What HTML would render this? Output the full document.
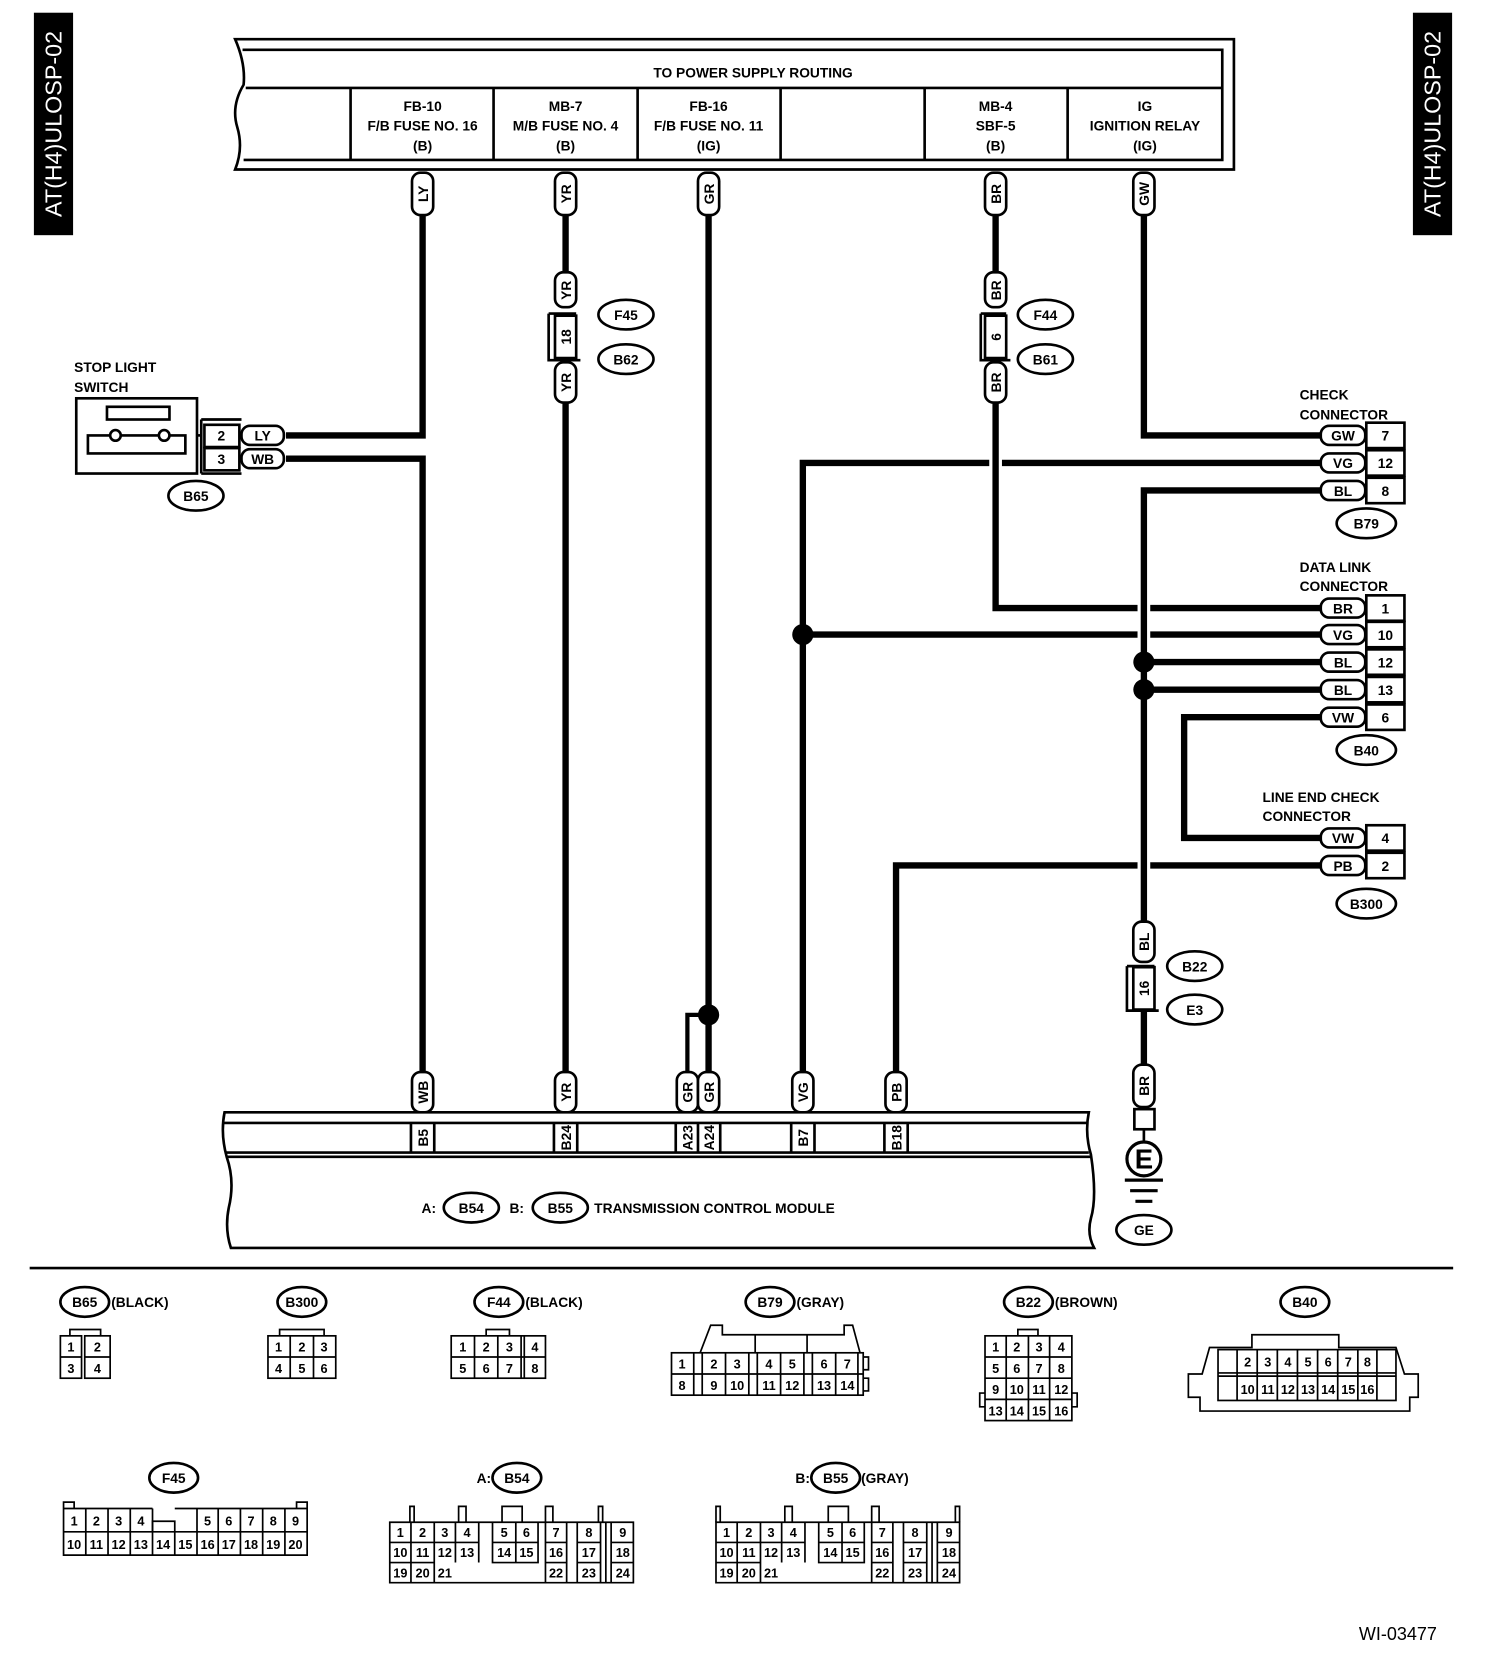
<!DOCTYPE html>
<html><head><meta charset="utf-8"><style>
html,body{margin:0;padding:0;background:#fff}
svg{display:block}
text{font-family:"Liberation Sans",Arial,sans-serif;font-weight:bold;fill:#000}
</style></head><body>
<svg width="1504" height="1660" viewBox="0 0 1420 1567" preserveAspectRatio="none" xmlns="http://www.w3.org/2000/svg">
<rect width="1420" height="1567" fill="#fff"/>
<!-- side labels -->
<rect x="32" y="12" width="37" height="210" fill="#000"/>
<text transform="translate(58,117) rotate(-90)" text-anchor="middle" font-size="22" style="fill:#fff;font-weight:normal">AT(H4)ULOSP-02</text>
<rect x="1334" y="12" width="37" height="210" fill="#000"/>
<text transform="translate(1360,117) rotate(-90)" text-anchor="middle" font-size="22" style="fill:#fff;font-weight:normal">AT(H4)ULOSP-02</text>

<!-- top box -->
<g fill="none" stroke="#000" stroke-width="2.5">
<path d="M222,37 L1165,37 L1165,160 L222,160 Q230,140 224,120 Q218,100 230,80 Q232,60 222,37 Z" fill="#fff"/>
<path d="M229,47 L1154,47 L1154,151 L230,151"/>
<line x1="232" y1="83" x2="1154" y2="83"/>
<line x1="331" y1="83" x2="331" y2="151"/><line x1="466" y1="83" x2="466" y2="151"/>
<line x1="602" y1="83" x2="602" y2="151"/><line x1="737" y1="83" x2="737" y2="151"/>
<line x1="873" y1="83" x2="873" y2="151"/><line x1="1008" y1="83" x2="1008" y2="151"/>
</g>
<g font-size="13" text-anchor="middle" style="font-weight:normal">
<text x="711" y="73">TO POWER SUPPLY ROUTING</text>
<text x="399" y="105">FB-10</text><text x="399" y="123">F/B FUSE NO. 16</text><text x="399" y="142">(B)</text>
<text x="534" y="105">MB-7</text><text x="534" y="123">M/B FUSE NO. 4</text><text x="534" y="142">(B)</text>
<text x="669" y="105">FB-16</text><text x="669" y="123">F/B FUSE NO. 11</text><text x="669" y="142">(IG)</text>
<text x="940" y="105">MB-4</text><text x="940" y="123">SBF-5</text><text x="940" y="142">(B)</text>
<text x="1081" y="105">IG</text><text x="1081" y="123">IGNITION RELAY</text><text x="1081" y="142">(IG)</text>
</g>

<!-- wires -->
<g stroke="#000" stroke-width="6" fill="none">
<path d="M399,203 V411 H270"/>
<path d="M270,433 H399 V1012"/>
<line x1="534" y1="203" x2="534" y2="257"/><line x1="534" y1="380" x2="534" y2="1012"/>
<line x1="669" y1="203" x2="669" y2="1012"/>
<line x1="940" y1="203" x2="940" y2="257"/>
<path d="M940,380 V574 H1074"/><line x1="1086" y1="574" x2="1248" y2="574"/>
<path d="M1080,203 V411 H1248"/>
<path d="M758,1012 V437 H934"/><line x1="946" y1="437" x2="1248" y2="437"/>
<path d="M1248,463 H1080 V870"/>
<line x1="758" y1="599" x2="1074" y2="599"/><line x1="1086" y1="599" x2="1248" y2="599"/>
<line x1="1080" y1="625" x2="1248" y2="625"/><line x1="1080" y1="651" x2="1248" y2="651"/>
<path d="M1248,677 H1118 V791 H1248"/>
<path d="M846,1012 V817 H1074"/><line x1="1086" y1="817" x2="1248" y2="817"/>
<line x1="1080" y1="952" x2="1080" y2="1005"/>
</g>
<path d="M669,958 H649 V1012" stroke="#000" stroke-width="4" fill="none"/>
<g fill="#000"><circle cx="758" cy="599" r="10"/><circle cx="1080" cy="625" r="10"/><circle cx="1080" cy="651" r="10"/><circle cx="669" cy="958" r="10"/></g>

<!-- vertical tags -->
<g fill="#fff" stroke="#000" stroke-width="2.5">
<rect x="389" y="163" width="20" height="40" rx="8"/><rect x="524" y="163" width="20" height="40" rx="8"/>
<rect x="659" y="163" width="20" height="40" rx="8"/><rect x="930" y="163" width="20" height="40" rx="8"/>
<rect x="1070" y="163" width="20" height="40" rx="8"/>
<rect x="524" y="257" width="20" height="33" rx="8"/><rect x="524" y="342" width="20" height="38" rx="8"/>
<rect x="930" y="257" width="20" height="33" rx="8"/><rect x="930" y="342" width="20" height="38" rx="8"/>
<rect x="389" y="1012" width="20" height="38" rx="8"/><rect x="524" y="1012" width="20" height="38" rx="8"/>
<rect x="639" y="1012" width="20" height="38" rx="8"/><rect x="659" y="1012" width="20" height="38" rx="8"/>
<rect x="748" y="1012" width="20" height="38" rx="8"/><rect x="836" y="1012" width="20" height="38" rx="8"/>
<rect x="1070" y="870" width="20" height="38" rx="8"/><rect x="1070" y="1005" width="20" height="40" rx="8"/>
<path d="M518,296 H544 M518,296 V340 H548" fill="none"/><rect x="524" y="298" width="20" height="40"/>
<path d="M926,296 H950 M926,296 V340 H954" fill="none"/><rect x="930" y="298" width="20" height="40"/>
<path d="M1064,912 H1090 M1064,912 V954 H1094" fill="none"/><rect x="1070" y="913" width="20" height="40"/>
</g>
<g font-size="13">
<text transform="translate(404,183) rotate(-90)" text-anchor="middle">LY</text>
<text transform="translate(539,183) rotate(-90)" text-anchor="middle">YR</text>
<text transform="translate(674,183) rotate(-90)" text-anchor="middle">GR</text>
<text transform="translate(945,183) rotate(-90)" text-anchor="middle">BR</text>
<text transform="translate(1085,183) rotate(-90)" text-anchor="middle">GW</text>
<text transform="translate(539,274) rotate(-90)" text-anchor="middle">YR</text>
<text transform="translate(539,361) rotate(-90)" text-anchor="middle">YR</text>
<text transform="translate(539,318) rotate(-90)" text-anchor="middle">18</text>
<text transform="translate(945,274) rotate(-90)" text-anchor="middle">BR</text>
<text transform="translate(945,361) rotate(-90)" text-anchor="middle">BR</text>
<text transform="translate(945,318) rotate(-90)" text-anchor="middle">6</text>
<text transform="translate(404,1031) rotate(-90)" text-anchor="middle">WB</text>
<text transform="translate(539,1031) rotate(-90)" text-anchor="middle">YR</text>
<text transform="translate(654,1031) rotate(-90)" text-anchor="middle">GR</text>
<text transform="translate(674,1031) rotate(-90)" text-anchor="middle">GR</text>
<text transform="translate(763,1031) rotate(-90)" text-anchor="middle">VG</text>
<text transform="translate(851,1031) rotate(-90)" text-anchor="middle">PB</text>
<text transform="translate(1085,889) rotate(-90)" text-anchor="middle">BL</text>
<text transform="translate(1085,933) rotate(-90)" text-anchor="middle">16</text>
<text transform="translate(1085,1025) rotate(-90)" text-anchor="middle">BR</text>
</g>

<!-- ovals -->
<g fill="#fff" stroke="#000" stroke-width="2.5">
<ellipse cx="591" cy="297" rx="26" ry="14"/><ellipse cx="591" cy="339" rx="26" ry="14"/>
<ellipse cx="987" cy="297" rx="26" ry="14"/><ellipse cx="987" cy="339" rx="26" ry="14"/>
<ellipse cx="1128" cy="912" rx="26" ry="14"/><ellipse cx="1128" cy="953" rx="26" ry="14"/>
<ellipse cx="185" cy="468" rx="26" ry="14"/>
<ellipse cx="1290" cy="494" rx="28" ry="14"/><ellipse cx="1290" cy="708" rx="28" ry="14"/><ellipse cx="1290" cy="853" rx="28" ry="14"/>
<ellipse cx="1080" cy="1161" rx="26" ry="14"/>
</g>
<g font-size="13" text-anchor="middle">
<text x="591" y="302">F45</text><text x="591" y="344">B62</text>
<text x="987" y="302">F44</text><text x="987" y="344">B61</text>
<text x="1128" y="917">B22</text><text x="1128" y="958">E3</text>
<text x="185" y="473">B65</text>
<text x="1290" y="499">B79</text><text x="1290" y="713">B40</text><text x="1290" y="858">B300</text>
<text x="1080" y="1166">GE</text>
</g>

<!-- stop light switch -->
<g font-size="13"><text x="70" y="351">STOP LIGHT</text><text x="70" y="370">SWITCH</text></g>
<g fill="none" stroke="#000" stroke-width="2.5">
<rect x="72" y="376" width="114" height="71"/>
<rect x="101" y="384" width="59" height="12"/>
<path d="M103,411 H83 V428 H175 V411 H160 M114,411 H150"/>
<circle cx="109" cy="411" r="5" fill="#fff"/><circle cx="155" cy="411" r="5" fill="#fff"/>
<path d="M186,411 H190"/>
<path d="M190,396 H228 M190,447 H228 M190,396 V447"/>
<rect x="193" y="401" width="33" height="21"/><rect x="193" y="423" width="33" height="21"/>
<rect x="228" y="402" width="40" height="18" rx="8" fill="#fff"/><rect x="228" y="424" width="40" height="18" rx="8" fill="#fff"/>
</g>
<g font-size="13" text-anchor="middle"><text x="209" y="416">2</text><text x="209" y="438">3</text><text x="248" y="416">LY</text><text x="248" y="438">WB</text></g>

<!-- right connectors -->
<g font-size="13">
<text x="1227" y="377">CHECK</text><text x="1227" y="396">CONNECTOR</text>
<text x="1227" y="540">DATA LINK</text><text x="1227" y="558">CONNECTOR</text>
<text x="1192" y="757">LINE END CHECK</text><text x="1192" y="775">CONNECTOR</text>
</g>
<g fill="#fff" stroke="#000" stroke-width="2.5">
<rect x="1290" y="399" width="36" height="24"/><rect x="1290" y="425" width="36" height="24"/><rect x="1290" y="451" width="36" height="24"/>
<rect x="1290" y="562" width="36" height="24"/><rect x="1290" y="587" width="36" height="24"/><rect x="1290" y="613" width="36" height="24"/><rect x="1290" y="639" width="36" height="24"/><rect x="1290" y="665" width="36" height="24"/>
<rect x="1290" y="779" width="36" height="24"/><rect x="1290" y="805" width="36" height="24"/>
<rect x="1247" y="402" width="42" height="18" rx="8"/><rect x="1247" y="428" width="42" height="18" rx="8"/><rect x="1247" y="454" width="42" height="18" rx="8"/>
<rect x="1247" y="565" width="42" height="18" rx="8"/><rect x="1247" y="590" width="42" height="18" rx="8"/><rect x="1247" y="616" width="42" height="18" rx="8"/><rect x="1247" y="642" width="42" height="18" rx="8"/><rect x="1247" y="668" width="42" height="18" rx="8"/>
<rect x="1247" y="782" width="42" height="18" rx="8"/><rect x="1247" y="808" width="42" height="18" rx="8"/>
</g>
<g font-size="13" text-anchor="middle">
<text x="1268" y="416">GW</text><text x="1308" y="416">7</text>
<text x="1268" y="442">VG</text><text x="1308" y="442">12</text>
<text x="1268" y="468">BL</text><text x="1308" y="468">8</text>
<text x="1268" y="579">BR</text><text x="1308" y="579">1</text>
<text x="1268" y="604">VG</text><text x="1308" y="604">10</text>
<text x="1268" y="630">BL</text><text x="1308" y="630">12</text>
<text x="1268" y="656">BL</text><text x="1308" y="656">13</text>
<text x="1268" y="682">VW</text><text x="1308" y="682">6</text>
<text x="1268" y="796">VW</text><text x="1308" y="796">4</text>
<text x="1268" y="822">PB</text><text x="1308" y="822">2</text>
</g>

<!-- ground -->
<g fill="none" stroke="#000" stroke-width="2.5">
<rect x="1071" y="1047" width="19" height="19" fill="#fff"/>
<line x1="1080" y1="1066" x2="1080" y2="1078"/>
<circle cx="1080" cy="1094" r="16" stroke-width="3"/>
<line x1="1062" y1="1114" x2="1098" y2="1114" stroke-width="3"/>
<line x1="1067" y1="1124" x2="1093" y2="1124" stroke-width="3"/>
<line x1="1072" y1="1134" x2="1088" y2="1134" stroke-width="3"/>
</g>
<text x="1080" y="1103" font-size="26" text-anchor="middle">E</text>

<!-- TCM -->
<g fill="none" stroke="#000" stroke-width="2.5">
<path d="M212,1050 H1028 Q1024,1070 1030,1090 Q1036,1130 1030,1150 Q1026,1165 1033,1178 H218 Q212,1160 216,1140 Q222,1115 214,1092 Q208,1070 212,1050 Z" fill="#fff"/>
<line x1="211" y1="1060" x2="1026" y2="1060"/><line x1="212" y1="1088" x2="1028" y2="1088"/><line x1="214" y1="1092" x2="1030" y2="1092"/>
<path d="M388,1060 V1088 M410,1060 V1088 M523,1060 V1088 M545,1060 V1088 M638,1060 V1088 M659,1060 V1088 M680,1060 V1088 M747,1060 V1088 M769,1060 V1088 M835,1060 V1088 M857,1060 V1088"/>
</g>
<g fill="#fff" stroke="#000" stroke-width="2.5">
<ellipse cx="445" cy="1140" rx="26" ry="14"/><ellipse cx="529" cy="1140" rx="26" ry="14"/>
</g>
<g font-size="13">
<text transform="translate(404,1074) rotate(-90)" text-anchor="middle">B5</text>
<text transform="translate(539,1074) rotate(-90)" text-anchor="middle">B24</text>
<text transform="translate(654,1074) rotate(-90)" text-anchor="middle">A23</text>
<text transform="translate(674,1074) rotate(-90)" text-anchor="middle">A24</text>
<text transform="translate(763,1074) rotate(-90)" text-anchor="middle">B7</text>
<text transform="translate(851,1074) rotate(-90)" text-anchor="middle">B18</text>
<text x="398" y="1145">A:</text><text x="481" y="1145">B:</text>
<text x="445" y="1145" text-anchor="middle">B54</text><text x="529" y="1145" text-anchor="middle">B55</text>
<text x="561" y="1145">TRANSMISSION CONTROL MODULE</text>
</g>

<line x1="28" y1="1197" x2="1372" y2="1197" stroke="#000" stroke-width="2.5"/>

<!-- bottom connector ovals -->
<g fill="#fff" stroke="#000" stroke-width="2.5">
<ellipse cx="80" cy="1229" rx="23" ry="14"/><ellipse cx="285" cy="1229" rx="23" ry="14"/><ellipse cx="471" cy="1229" rx="23" ry="14"/>
<ellipse cx="727" cy="1229" rx="23" ry="14"/><ellipse cx="971" cy="1229" rx="23" ry="14"/><ellipse cx="1232" cy="1229" rx="23" ry="14"/>
<ellipse cx="164" cy="1395" rx="23" ry="14"/><ellipse cx="488" cy="1395" rx="23" ry="14"/><ellipse cx="789" cy="1395" rx="23" ry="14"/>
</g>
<g font-size="13">
<text x="80" y="1234" text-anchor="middle">B65</text><text x="105" y="1234">(BLACK)</text>
<text x="285" y="1234" text-anchor="middle">B300</text>
<text x="471" y="1234" text-anchor="middle">F44</text><text x="496" y="1234">(BLACK)</text>
<text x="727" y="1234" text-anchor="middle">B79</text><text x="752" y="1234">(GRAY)</text>
<text x="971" y="1234" text-anchor="middle">B22</text><text x="996" y="1234">(BROWN)</text>
<text x="1232" y="1234" text-anchor="middle">B40</text>
<text x="164" y="1400" text-anchor="middle">F45</text>
<text x="450" y="1400">A:</text><text x="488" y="1400" text-anchor="middle">B54</text>
<text x="751" y="1400">B:</text><text x="789" y="1400" text-anchor="middle">B55</text><text x="813" y="1400">(GRAY)</text>
</g>

<!-- bottom connector grids -->
<g fill="none" stroke="#000" stroke-width="1.6">
<path d="M66,1261 V1255 H95 V1261"/>
<rect x="57" y="1261" width="20" height="40"/><rect x="80" y="1261" width="24" height="40"/>
<path d="M57,1281 H77 M80,1281 H104"/>
<path d="M264,1261 V1255 H306 V1261"/>
<rect x="253" y="1261" width="64" height="40"/><path d="M253,1281 H317 M274,1261 V1301 M296,1261 V1301"/>
<path d="M459,1261 V1255 H481 V1261"/>
<rect x="426" y="1261" width="89" height="40"/><path d="M426,1281 H515 M448,1261 V1301 M470,1261 V1301 M492,1261 V1301 M495,1261 V1301"/>
<path d="M661,1277 L671,1251 H682 V1260 H797 V1251 H805 L812,1277 M713,1260 V1277 M762,1260 V1277"/>
<rect x="634" y="1277" width="181" height="40"/><path d="M634,1297 H815 M655,1277 V1317 M663,1277 V1317 M685,1277 V1317 M707,1277 V1317 M715,1277 V1317 M737,1277 V1317 M759,1277 V1317 M767,1277 V1317 M789,1277 V1317 M810,1277 V1317 M815,1281 H820 V1293 H815 M815,1301 H820 V1313 H815"/>
<path d="M961,1261 V1255 H980 V1261"/>
<rect x="930" y="1261" width="82" height="80"/><path d="M930,1281 H1012 M930,1301 H1012 M930,1321 H1012 M950,1261 V1341 M971,1261 V1341 M991,1261 V1341 M930,1315 H925 V1328 H930 M1012,1315 H1017 V1328 H1012"/>
<!-- B40 -->
<path d="M1182,1272 V1260 H1264 V1272 H1318 L1326,1297 H1339 V1319 H1331 V1332 H1133 V1319 H1122 V1297 H1135 L1142,1272 Z"/>
<rect x="1150" y="1274" width="168" height="48"/><path d="M1150,1296 H1318 M1150,1299 H1318 M1168,1274 V1322 M1187,1274 V1322 M1206,1274 V1322 M1225,1274 V1322 M1244,1274 V1322 M1263,1274 V1322 M1282,1274 V1322 M1300,1274 V1322"/>
<!-- F45 -->
<path d="M60,1424 V1418 H70 V1424 M280,1424 V1418 H290 V1424 M144,1446 V1436 H165 V1446"/>
<path d="M60,1424 H144 M165,1424 H290 M60,1424 V1468 H290 V1424"/>
<path d="M60,1446 H290 M81,1424 V1468 M102,1424 V1468 M123,1424 V1468 M144,1424 V1468 M165,1446 V1468 M186,1424 V1468 M206,1424 V1468 M227,1424 V1468 M248,1424 V1468 M269,1424 V1468"/>
</g>
<g font-size="12" text-anchor="middle" style="font-weight:normal">
<text x="67" y="1276">1</text><text x="92" y="1276">2</text><text x="67" y="1296">3</text><text x="92" y="1296">4</text>
<text x="263" y="1276">1</text><text x="285" y="1276">2</text><text x="306" y="1276">3</text><text x="263" y="1296">4</text><text x="285" y="1296">5</text><text x="306" y="1296">6</text>
<text x="437" y="1276">1</text><text x="459" y="1276">2</text><text x="481" y="1276">3</text><text x="505" y="1276">4</text>
<text x="437" y="1296">5</text><text x="459" y="1296">6</text><text x="481" y="1296">7</text><text x="505" y="1296">8</text>
<text x="644" y="1292">1</text><text x="674" y="1292">2</text><text x="696" y="1292">3</text><text x="726" y="1292">4</text><text x="748" y="1292">5</text><text x="778" y="1292">6</text><text x="800" y="1292">7</text>
<text x="644" y="1312">8</text><text x="674" y="1312">9</text><text x="696" y="1312">10</text><text x="726" y="1312">11</text><text x="748" y="1312">12</text><text x="778" y="1312">13</text><text x="800" y="1312">14</text>
<text x="940" y="1276">1</text><text x="960" y="1276">2</text><text x="981" y="1276">3</text><text x="1002" y="1276">4</text>
<text x="940" y="1296">5</text><text x="960" y="1296">6</text><text x="981" y="1296">7</text><text x="1002" y="1296">8</text>
<text x="940" y="1316">9</text><text x="960" y="1316">10</text><text x="981" y="1316">11</text><text x="1002" y="1316">12</text>
<text x="940" y="1336">13</text><text x="960" y="1336">14</text><text x="981" y="1336">15</text><text x="1002" y="1336">16</text>
<text x="1178" y="1290">2</text><text x="1197" y="1290">3</text><text x="1216" y="1290">4</text><text x="1235" y="1290">5</text><text x="1254" y="1290">6</text><text x="1273" y="1290">7</text><text x="1291" y="1290">8</text>
<text x="1178" y="1316">10</text><text x="1197" y="1316">11</text><text x="1216" y="1316">12</text><text x="1235" y="1316">13</text><text x="1254" y="1316">14</text><text x="1273" y="1316">15</text><text x="1291" y="1316">16</text>
<text x="70" y="1440">1</text><text x="91" y="1440">2</text><text x="112" y="1440">3</text><text x="133" y="1440">4</text>
<text x="196" y="1440">5</text><text x="216" y="1440">6</text><text x="237" y="1440">7</text><text x="258" y="1440">8</text><text x="279" y="1440">9</text>
<text x="70" y="1462">10</text><text x="91" y="1462">11</text><text x="112" y="1462">12</text><text x="133" y="1462">13</text><text x="154" y="1462">14</text>
<text x="175" y="1462">15</text><text x="196" y="1462">16</text><text x="216" y="1462">17</text><text x="237" y="1462">18</text><text x="258" y="1462">19</text><text x="279" y="1462">20</text>
</g>

<!-- B54 -->
<g>
<g fill="none" stroke="#000" stroke-width="1.6">
<path d="M368,1437 H598 V1494 H368 Z"/>
<path d="M368,1456 H452 M368,1475 H410 M388,1437 V1494 M410,1437 V1494 M430,1437 V1475 M452,1437 V1475"/>
<path d="M465,1437 V1475 H508 V1437 M487,1437 V1475 M465,1456 H508"/>
<path d="M515,1437 V1494 M535,1437 V1494 M515,1456 H535 M515,1475 H535"/>
<path d="M545,1437 V1494 M567,1437 V1494 M545,1456 H567 M545,1475 H567"/>
<path d="M572,1437 V1494 M577,1437 V1494 M577,1456 H598 M577,1475 H598"/>
<path d="M387,1437 V1422 H391 V1437 M433,1437 V1422 H440 V1437 M474,1437 V1422 H493 V1437 M515,1437 V1422 H522 V1437 M565,1437 V1422 H569 V1437"/>
</g>
<g font-size="12" text-anchor="middle" style="font-weight:normal">
<text x="378" y="1451">1</text><text x="399" y="1451">2</text><text x="420" y="1451">3</text><text x="441" y="1451">4</text><text x="476" y="1451">5</text><text x="497" y="1451">6</text><text x="525" y="1451">7</text><text x="556" y="1451">8</text><text x="588" y="1451">9</text>
<text x="378" y="1470">10</text><text x="399" y="1470">11</text><text x="420" y="1470">12</text><text x="441" y="1470">13</text><text x="476" y="1470">14</text><text x="497" y="1470">15</text><text x="525" y="1470">16</text><text x="556" y="1470">17</text><text x="588" y="1470">18</text>
<text x="378" y="1489">19</text><text x="399" y="1489">20</text><text x="420" y="1489">21</text><text x="525" y="1489">22</text><text x="556" y="1489">23</text><text x="588" y="1489">24</text>
</g>
</g>
<!-- B55 -->
<g transform="translate(308,0)">
<g fill="none" stroke="#000" stroke-width="1.6">
<path d="M368,1437 H598 V1494 H368 Z"/>
<path d="M368,1456 H452 M368,1475 H410 M388,1437 V1494 M410,1437 V1494 M430,1437 V1475 M452,1437 V1475"/>
<path d="M465,1437 V1475 H508 V1437 M487,1437 V1475 M465,1456 H508"/>
<path d="M515,1437 V1494 M535,1437 V1494 M515,1456 H535 M515,1475 H535"/>
<path d="M545,1437 V1494 M567,1437 V1494 M545,1456 H567 M545,1475 H567"/>
<path d="M572,1437 V1494 M577,1437 V1494 M577,1456 H598 M577,1475 H598"/>
<path d="M368,1437 V1422 H372 V1437 M433,1437 V1422 H440 V1437 M474,1437 V1422 H493 V1437 M515,1437 V1422 H522 V1437 M594,1437 V1422 H598 V1437"/>
</g>
<g font-size="12" text-anchor="middle" style="font-weight:normal">
<text x="378" y="1451">1</text><text x="399" y="1451">2</text><text x="420" y="1451">3</text><text x="441" y="1451">4</text><text x="476" y="1451">5</text><text x="497" y="1451">6</text><text x="525" y="1451">7</text><text x="556" y="1451">8</text><text x="588" y="1451">9</text>
<text x="378" y="1470">10</text><text x="399" y="1470">11</text><text x="420" y="1470">12</text><text x="441" y="1470">13</text><text x="476" y="1470">14</text><text x="497" y="1470">15</text><text x="525" y="1470">16</text><text x="556" y="1470">17</text><text x="588" y="1470">18</text>
<text x="378" y="1489">19</text><text x="399" y="1489">20</text><text x="420" y="1489">21</text><text x="525" y="1489">22</text><text x="556" y="1489">23</text><text x="588" y="1489">24</text>
</g>
</g>

<text x="1283" y="1548" font-size="17" style="font-weight:normal">WI-03477</text>
</svg>
</body></html>
